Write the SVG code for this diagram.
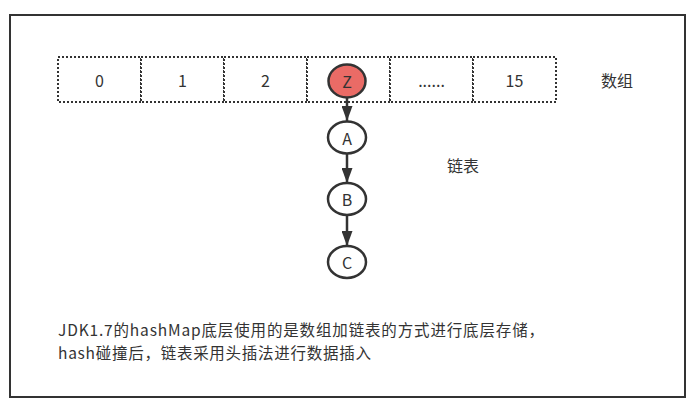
<svg xmlns="http://www.w3.org/2000/svg" width="698" height="408" viewBox="0 0 698 408">
<defs>
<style>
.frame{fill:#ffffff;stroke:#333333;stroke-width:2}
.cell{fill:#ffffff;stroke:#333333;stroke-width:2;stroke-dasharray:2 2}
.node{fill:#ffffff;stroke:#333333;stroke-width:2.5}
.hot{fill:#ea6b66}
.lbl{font-family:"Noto Sans CJK SC","Noto Sans",sans-serif;font-size:16px;fill:#333333;text-anchor:middle;dominant-baseline:central}
.txt{font-family:"Noto Sans CJK SC","Noto Sans",sans-serif;font-size:15.5px;fill:#333333}
.edge{stroke:#333333;stroke-width:2.5;fill:none}
</style>
<marker id="arr" markerUnits="userSpaceOnUse" markerWidth="15" markerHeight="11" refX="15" refY="5.5" orient="auto">
<path d="M0,0 L15,5.5 L0,11 z" fill="#333333"/>
</marker>
</defs>
<rect x="0" y="0" width="698" height="408" fill="#ffffff"/>
<rect class="frame" x="10" y="15" width="675" height="382"/>
<g id="array">
<g id="cell0"><rect class="cell" x="58" y="57" width="83" height="45"/><text class="lbl" x="99.5" y="80">0</text></g>
<g id="cell1"><rect class="cell" x="141" y="57" width="83" height="45"/><text class="lbl" x="182.5" y="80">1</text></g>
<g id="cell2"><rect class="cell" x="224" y="57" width="83" height="45"/><text class="lbl" x="265.5" y="80">2</text></g>
<g id="cell3"><rect class="cell" x="307" y="57" width="83" height="45"/></g>
<g id="cell4"><rect class="cell" x="390" y="57" width="83" height="45"/><text class="lbl" x="431.5" y="80">......</text></g>
<g id="cell15"><rect class="cell" x="473" y="57" width="83" height="45"/><text class="lbl" x="514.5" y="80">15</text></g>
</g>
<g id="arrayLabel"><text class="lbl" x="617" y="80">数组</text></g>
<g id="listLabel"><text class="lbl" x="463" y="165">链表</text></g>
<g id="connectors">
<line class="edge" x1="347" y1="97" x2="347" y2="121" marker-end="url(#arr)"/>
<line class="edge" x1="347" y1="154" x2="347" y2="183" marker-end="url(#arr)"/>
<line class="edge" x1="347" y1="215" x2="347" y2="246" marker-end="url(#arr)"/>
</g>
<g id="nodeZ"><ellipse class="node hot" cx="347" cy="81" rx="18.5" ry="16.5"/><text class="lbl" x="347" y="81">Z</text></g>
<g id="nodeA"><ellipse class="node" cx="347" cy="137.5" rx="19" ry="16"/><text class="lbl" x="347" y="137.5">A</text></g>
<g id="nodeB"><ellipse class="node" cx="347" cy="199" rx="19" ry="16"/><text class="lbl" x="347" y="199">B</text></g>
<g id="nodeC"><ellipse class="node" cx="347" cy="262" rx="19" ry="16"/><text class="lbl" x="347" y="262">C</text></g>
<g id="note">
<text class="txt" x="58" y="336" textLength="486" lengthAdjust="spacing">JDK1.7的hashMap底层使用的是数组加链表的方式进行底层存储，</text>
<text class="txt" x="58" y="358.5" textLength="313" lengthAdjust="spacing">hash碰撞后，链表采用头插法进行数据插入</text>
</g>
</svg>
